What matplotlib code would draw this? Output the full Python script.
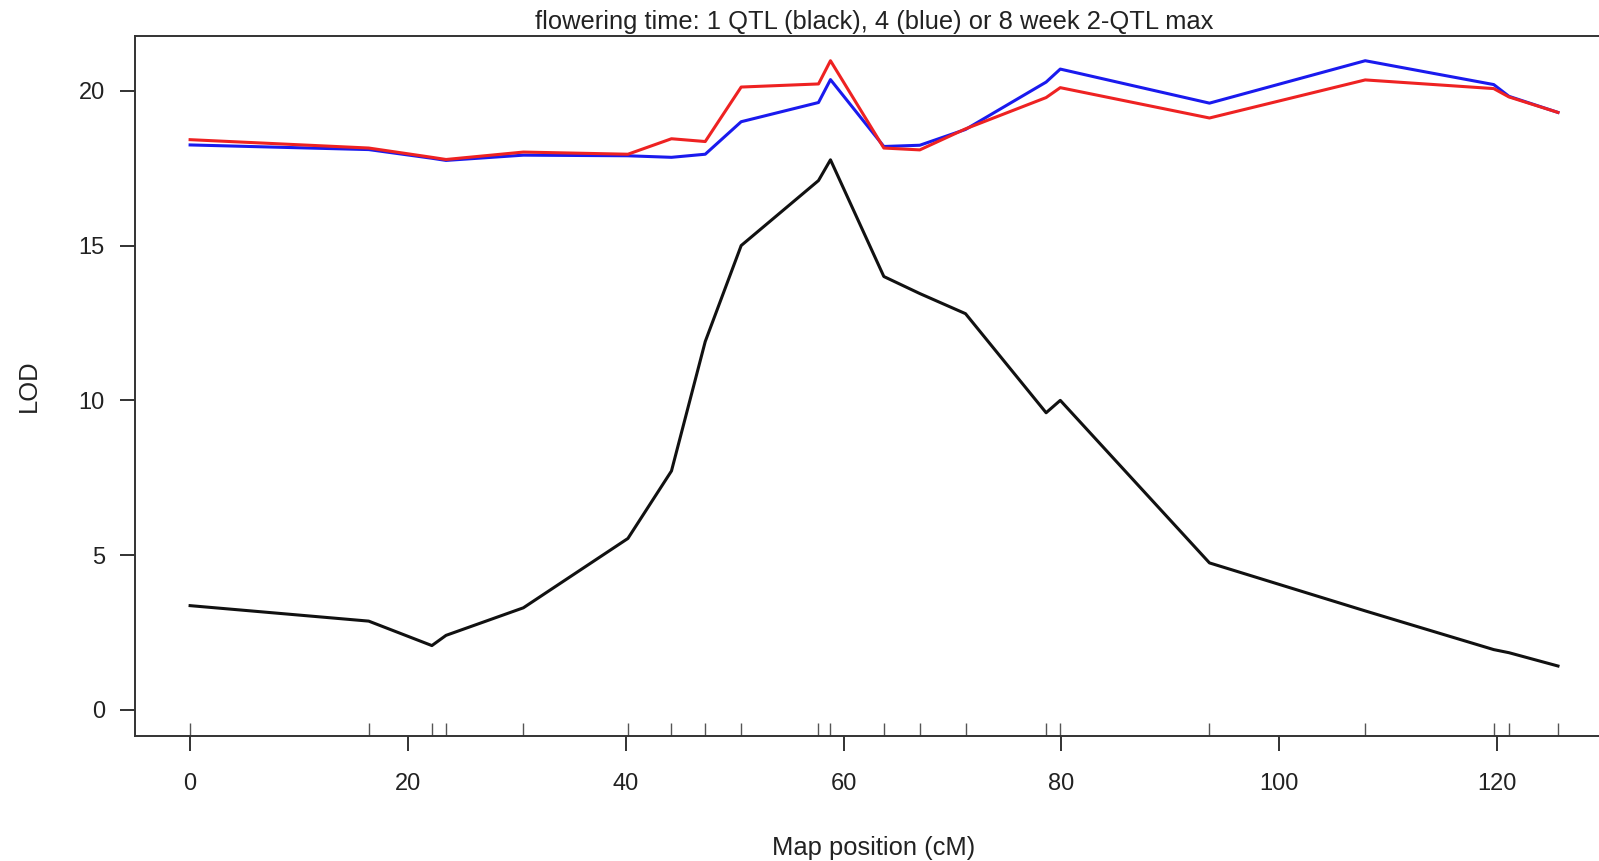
import matplotlib
matplotlib.use('Agg')
import matplotlib.pyplot as plt
import numpy as np

plt.rcParams['font.family'] = ['Liberation Sans', 'DejaVu Sans']

# marker positions along the chromosome (cM)
map_pos = [0.0, 16.4, 22.2, 23.5, 30.6, 40.2, 44.2, 47.3, 50.6, 57.7, 58.8,
           63.7, 67.0, 71.2, 78.6, 79.9, 93.6, 107.9, 119.7, 121.1, 125.6]

# single QTL scan (black)
lod_1qtl = [3.37, 2.87, 2.08, 2.41, 3.30, 5.54, 7.72, 11.9, 15.0, 17.1, 17.77,
            14.0, 13.45, 12.8, 9.6, 10.0, 4.75, 3.2, 1.95, 1.85, 1.42]

# 2-QTL max at 4 weeks (blue)
lod_4wk = [18.25, 18.1, 17.82, 17.75, 17.92, 17.9, 17.85, 17.95, 19.0, 19.62, 20.36,
           18.2, 18.24, 18.75, 20.28, 20.7, 19.6, 20.97, 20.2, 19.82, 19.3]

# 2-QTL max at 8 weeks (red)
lod_8wk = [18.42, 18.15, 17.85, 17.78, 18.02, 17.95, 18.45, 18.36, 20.12, 20.22, 20.97,
           18.15, 18.09, 18.77, 19.78, 20.1, 19.12, 20.35, 20.07, 19.8, 19.3]

x_ticks = [0, 20, 40, 60, 80, 100, 120]
y_ticks = [0, 5, 10, 15, 20]

txt_col = '#222222'

fig = plt.figure(figsize=(15.99, 8.61), dpi=100)
ax = fig.add_axes([0.0847, 0.1452, 0.9237, 0.8134])

ax.plot(map_pos, lod_1qtl, color='#111111', lw=2.2)
ax.plot(map_pos, lod_4wk, color='#1a1aee', lw=2.2)
ax.plot(map_pos, lod_8wk, color='#ee2222', lw=2.2)

# rug of marker positions along the bottom
ax.vlines(map_pos, 0, 0.019, transform=ax.get_xaxis_transform(), color='#555555', lw=1.0)

ax.set_xlim(-5.02, 130.6)
ax.set_ylim(-0.84, 21.78)
ax.set_xticks(x_ticks)
ax.set_yticks(y_ticks)
ax.tick_params(axis='x', direction='out', length=11, width=1.3, pad=16,
               labelsize=17, colors=txt_col)
ax.tick_params(axis='y', direction='out', length=11, width=1.3, pad=11,
               labelsize=17, colors=txt_col)
for s in ax.spines.values():
	s.set_linewidth(1.4)
	s.set_color('#333333')

ax.set_title('flowering time: 1 QTL (black), 4 (blue) or 8 week 2-QTL max',
             fontsize=18.4, color=txt_col, pad=5)
ax.set_xlabel('Map position (cM)', fontsize=18.4, color=txt_col, labelpad=29)
ax.set_ylabel('LOD', fontsize=18.4, color=txt_col, labelpad=27)

fig.savefig('out.png', dpi=100)
